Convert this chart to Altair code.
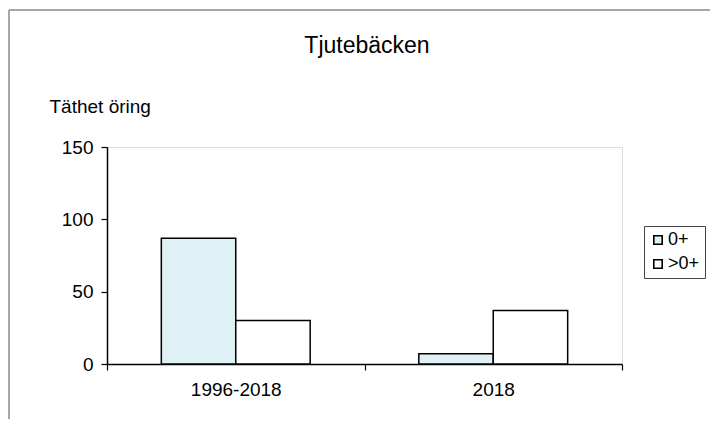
import altair as alt
import pandas as pd

periods = ["1996-2018", "2018"]
classes = ["0+", ">0+"]
density_0plus = [87, 7]
density_older = [30, 37]
fill_colors = ["#dff1f5", "#ffffff"]
chart_title = "Tjutebäcken"

rows = []
for i, p in enumerate(periods):
    rows.append({"period": p, "age": classes[0], "density": density_0plus[i]})
    rows.append({"period": p, "age": classes[1], "density": density_older[i]})
df = pd.DataFrame(rows)

FONT = "Liberation Sans"

bars = alt.Chart(df).mark_bar(stroke="black", strokeWidth=1.5).encode(
    x=alt.X(
        "period:N",
        sort=periods,
        scale=alt.Scale(paddingInner=0, paddingOuter=0),
        axis=alt.Axis(
            title=None, labelAngle=0, tickBand="extent", tickSize=6,
            labelPadding=10, labelFontSize=19, domainColor="black",
            domainWidth=1.5, tickColor="black", tickWidth=1.2,
        ),
    ),
    xOffset=alt.XOffset(
        "age:N", sort=classes,
        scale=alt.Scale(domain=classes, paddingInner=0, paddingOuter=0.73),
    ),
    y=alt.Y(
        "density:Q",
        scale=alt.Scale(domain=[0, 150]),
        axis=alt.Axis(
            values=[0, 50, 100, 150], title="Täthet öring", grid=False,
            tickSize=6, labelPadding=8, labelFontSize=19,
            domainColor="black", domainWidth=1.5, tickColor="black", tickWidth=1.2,
            titleAngle=0, titleAlign="left", titleBaseline="alphabetic",
            titleX=-58, titleY=-35, titleFontSize=19, titleFontWeight="normal",
        ),
    ),
    color=alt.Color(
        "age:N",
        sort=classes,
        scale=alt.Scale(domain=classes, range=fill_colors),
        legend=alt.Legend(
            title=None, orient="none", legendX=537, legendY=79,
            strokeColor="#444", padding=5, symbolType="square",
            symbolSize=70, symbolStrokeColor="black", symbolStrokeWidth=1.6,
            labelFontSize=18, rowPadding=6, labelOffset=1,
        ),
    ),
)

frame_src = pd.DataFrame({"k": [0]})
frame_top = alt.Chart(frame_src).mark_rule(color="#888", strokeWidth=1.5).encode(
    x=alt.value(-98), x2=alt.value(700), y=alt.value(-137)
)
frame_left = alt.Chart(frame_src).mark_rule(color="#888", strokeWidth=1.5).encode(
    x=alt.value(-98), y=alt.value(-137), y2=alt.value(400)
)
title_mark = alt.Chart(pd.DataFrame({"t": [chart_title]})).mark_text(
    font=FONT, fontSize=23, color="black", align="center", baseline="alphabetic"
).encode(text="t:N", x=alt.value(260), y=alt.value(-94))

chart = alt.layer(frame_top, frame_left, title_mark, bars).properties(
    width=515,
    height=217,
    autosize="none",
    padding={"left": 99, "top": 139, "right": 88, "bottom": 55},
).configure_view(stroke="#999", strokeWidth=1).configure_axis(
    labelFont=FONT, titleFont=FONT, labelColor="black", titleColor="black"
).configure_legend(labelFont=FONT, labelColor="black").configure(background="white")

chart.save("out.html", embed_options={"renderer": "svg", "actions": False})
